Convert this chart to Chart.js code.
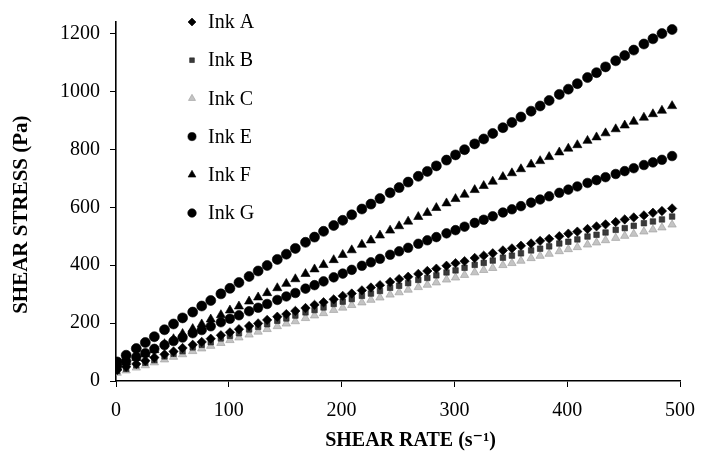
<!DOCTYPE html>
<html>
<head>
<meta charset="utf-8">
<script src="https://cdn.jsdelivr.net/npm/chart.js@4.4.1/dist/chart.umd.min.js"></script>
<style>
  html, body { margin: 0; padding: 0; background: #fff; }
  #wrap { width: 707px; height: 460px; }
</style>
</head>
<body>
<div id="wrap"><canvas id="c" width="707" height="460"></canvas></div>
<script>
// ---- data ----
const shearRate = [1, 9, 18, 26, 34, 43, 51, 59, 68, 76, 84, 93, 101, 109, 118, 126, 134, 143, 151, 159,
  168, 176, 184, 193, 201, 209, 218, 226, 234, 243, 251, 259, 268, 276, 284, 293, 301, 309, 318, 326,
  334, 343, 351, 359, 368, 376, 384, 393, 401, 409, 418, 426, 434, 443, 451, 459, 468, 476, 484, 493];

const inkA = [38, 49, 59, 70, 81, 92, 102, 114, 125, 135, 146, 158, 168, 179, 190, 199, 211, 222, 231, 242,
  252, 263, 272, 282, 294, 302, 313, 323, 331, 342, 352, 360, 370, 380, 388, 398, 407, 414, 425, 433,
  441, 451, 458, 467, 475, 484, 491, 500, 509, 516, 525, 534, 541, 549, 558, 565, 572, 581, 587, 596];

const inkB = [34, 42, 54, 63, 72, 85, 94, 103, 116, 125, 134, 147, 156, 165, 178, 187, 196, 208, 216, 226,
  237, 245, 254, 266, 274, 283, 294, 302, 311, 322, 329, 338, 349, 356, 365, 375, 382, 391, 401, 408,
  416, 426, 433, 441, 451, 457, 465, 475, 481, 489, 499, 505, 513, 522, 528, 536, 545, 551, 558, 568];

const inkC = [28, 36, 46, 54, 64, 74, 83, 92, 103, 112, 121, 131, 141, 150, 160, 170, 179, 189, 198, 206,
  217, 226, 234, 245, 253, 262, 271, 280, 288, 298, 306, 315, 324, 332, 340, 350, 357, 366, 375, 383,
  390, 400, 407, 415, 424, 432, 439, 448, 455, 462, 471, 478, 486, 494, 501, 508, 516, 523, 530, 540];

const inkE = [52, 68, 83, 96, 111, 124, 138, 150, 165, 176, 189, 203, 215, 227, 241, 253, 266, 280, 292, 304,
  319, 331, 344, 358, 371, 384, 398, 410, 422, 436, 448, 460, 474, 486, 497, 510, 521, 533, 546, 557,
  569, 582, 593, 604, 616, 627, 638, 650, 661, 672, 684, 694, 704, 715, 725, 735, 746, 755, 764, 777];

const inkF = [48, 64, 80, 93, 107, 128, 145, 163, 180, 196, 213, 228, 244, 258, 275, 289, 304, 321, 336, 352,
  370, 386, 401, 418, 436, 452, 471, 486, 503, 520, 535, 551, 567, 581, 598, 614, 629, 644, 660, 674,
  689, 705, 718, 732, 748, 760, 774, 790, 803, 815, 830, 842, 856, 870, 883, 896, 910, 922, 934, 950];

const inkG = [66, 89, 112, 133, 153, 177, 197, 218, 238, 259, 278, 301, 320, 340, 361, 380, 399, 420, 438, 458,
  479, 497, 517, 537, 555, 574, 594, 611, 630, 650, 668, 687, 707, 724, 743, 763, 781, 799, 819, 836,
  855, 875, 893, 912, 932, 950, 969, 990, 1008, 1027, 1048, 1065, 1085, 1106, 1124, 1143, 1164, 1182, 1200, 1214];

const seriesNames = ['Ink A', 'Ink B', 'Ink C', 'Ink E', 'Ink F', 'Ink G'];
const xTickValues = [0, 100, 200, 300, 400, 500];
const yTickValues = [0, 200, 400, 600, 800, 1000, 1200];

// ---- styles ----
const seriesValues = [inkA, inkB, inkC, inkE, inkF, inkG];
const styles = [
  { pointStyle: 'rectRot',  radius: 4.7, bg: '#000000', border: '#000000' },
  { pointStyle: 'rect',     radius: 3.9, bg: '#3a3a3a', border: '#222222' },
  { pointStyle: 'triangle', radius: 4.8, bg: '#c4c4c4', border: '#9a9a9a' },
  { pointStyle: 'circle',   radius: 4.8, bg: '#000000', border: '#000000' },
  { pointStyle: 'triangle', radius: 5.3, bg: '#000000', border: '#000000' },
  { pointStyle: 'circle',   radius: 5.0, bg: '#000000', border: '#000000' }
];

const datasets = seriesNames.map((name, i) => ({
  label: name,
  data: shearRate.map((x, j) => ({ x: x, y: seriesValues[i][j] })),
  showLine: false,
  pointStyle: styles[i].pointStyle,
  pointRadius: styles[i].radius,
  pointHoverRadius: styles[i].radius,
  backgroundColor: styles[i].bg,
  borderColor: styles[i].border,
  pointBorderWidth: 0.6
}));

const serif = "'Liberation Serif', 'DejaVu Serif', serif";

const legendPlugin = {
  id: 'insideLegend',
  afterDraw(chart) {
    const ctx = chart.ctx;
    const area = chart.chartArea;
    ctx.save();
    chart.data.datasets.forEach((ds, i) => {
      const y = area.top + 0 + i * 38.2;
      const mx = area.left + 76;
      ctx.fillStyle = ds.backgroundColor;
      ctx.strokeStyle = ds.borderColor;
      ctx.lineWidth = 0.6;
      Chart.helpers.drawPoint(ctx, { pointStyle: ds.pointStyle, radius: ds.pointRadius * 0.85, borderWidth: 0.6 }, mx, y);
      ctx.fillStyle = '#000';
      ctx.font = "20px " + serif;
      ctx.textBaseline = 'middle';
      ctx.textAlign = 'left';
      ctx.fillText(ds.label, mx + 16, y + 1);
    });
    ctx.restore();
  }
};

new Chart(document.getElementById('c'), {
  type: 'scatter',
  data: { datasets: datasets },
  plugins: [legendPlugin],
  options: {
    responsive: false,
    animation: false,
    layout: { padding: { left: 0, right: 18, top: 22, bottom: 0 } },
    plugins: { legend: { display: false }, tooltip: { enabled: false } },
    scales: {
      x: {
        type: 'linear', min: 0, max: 500,
        afterBuildTicks: (s) => { s.ticks = xTickValues.map(v => ({ value: v })); },
        afterFit: (s) => { s.height = 79; },
        grid: { drawOnChartArea: false, drawTicks: true, tickLength: 6, color: '#000', lineWidth: 1 },
        border: { color: '#000', width: 1.6 },
        ticks: { color: '#000', font: { family: serif, size: 20 }, padding: 12, maxRotation: 0,
                 callback: (v) => String(v) },
        title: { display: true, text: '     SHEAR RATE (s⁻¹)', color: '#000',
                 font: { family: serif, size: 20, weight: 'bold' }, padding: { top: 0, bottom: 7 } }
      },
      y: {
        type: 'linear', min: 0, max: 1240,
        afterBuildTicks: (s) => { s.ticks = yTickValues.map(v => ({ value: v })); },
        afterFit: (s) => { s.width = 116; },
        grid: { drawOnChartArea: false, drawTicks: true, tickLength: 6, color: '#000', lineWidth: 1 },
        border: { color: '#000', width: 1.6 },
        ticks: { color: '#000', font: { family: serif, size: 20 }, padding: 10,
                 callback: (v) => String(v) },
        title: { display: true, text: 'SHEAR STRESS (Pa)     ', color: '#000',
                 font: { family: serif, size: 21, weight: 'bold' }, padding: { top: 9, bottom: 0 } }
      }
    }
  }
});
</script>
</body>
</html>
